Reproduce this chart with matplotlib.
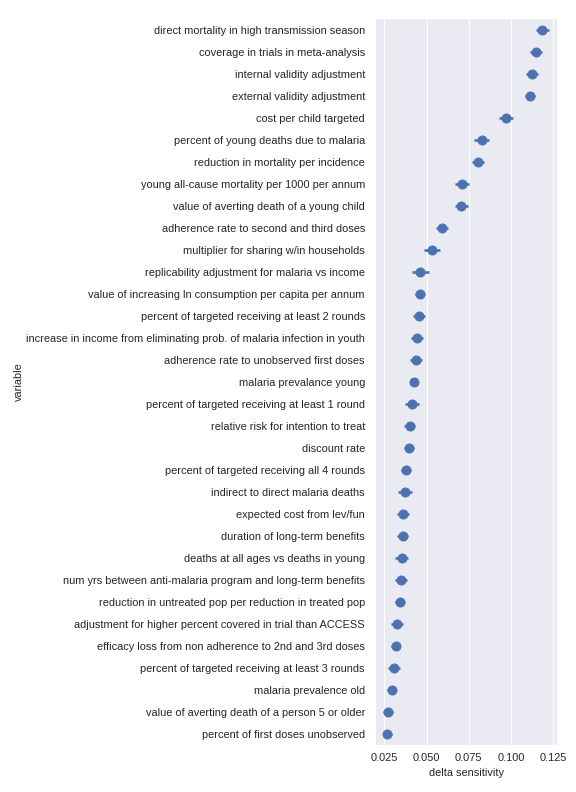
import matplotlib
matplotlib.use("Agg")
import matplotlib.pyplot as plt
import numpy as np

variables = [
    "direct mortality in high transmission season",
    "coverage in trials in meta-analysis",
    "internal validity adjustment",
    "external validity adjustment",
    "cost per child targeted",
    "percent of young deaths due to malaria",
    "reduction in mortality per incidence",
    "young all-cause mortality per 1000 per annum",
    "value of averting death of a young child",
    "adherence rate to second and third doses",
    "multiplier for sharing w/in households",
    "replicability adjustment for malaria vs income",
    "value of increasing ln consumption per capita per annum",
    "percent of targeted receiving at least 2 rounds",
    "increase in income from eliminating prob. of malaria infection in youth",
    "adherence rate to unobserved first doses",
    "malaria prevalance young",
    "percent of targeted receiving at least 1 round",
    "relative risk for intention to treat",
    "discount rate",
    "percent of targeted receiving all 4 rounds",
    "indirect to direct malaria deaths",
    "expected cost from lev/fun",
    "duration of long-term benefits",
    "deaths at all ages vs deaths in young",
    "num yrs between anti-malaria program and long-term benefits",
    "reduction in untreated pop per reduction in treated pop",
    "adjustment for higher percent covered in trial than ACCESS",
    "efficacy loss from non adherence to 2nd and 3rd doses",
    "percent of targeted receiving at least 3 rounds",
    "malaria prevalence old",
    "value of averting death of a person 5 or older",
    "percent of first doses unobserved",
]

delta_mean = [
    0.1184, 0.1145, 0.1125, 0.1111, 0.0971, 0.0826, 0.0806, 0.0709, 0.0705,
    0.0591, 0.0532, 0.0463, 0.0461, 0.0455, 0.0443, 0.0437, 0.0426, 0.0414,
    0.0400, 0.0396, 0.0376, 0.0374, 0.0361, 0.0359, 0.0353, 0.0350, 0.0343,
    0.0325, 0.0317, 0.0307, 0.0294, 0.0274, 0.0268,
]

ci_half = [
    0.0040, 0.0036, 0.0036, 0.0030, 0.0040, 0.0045, 0.0036, 0.0043, 0.0037,
    0.0034, 0.0046, 0.0050, 0.0030, 0.0038, 0.0037, 0.0034, 0.0026, 0.0040,
    0.0032, 0.0030, 0.0030, 0.0040, 0.0035, 0.0034, 0.0040, 0.0037, 0.0030,
    0.0036, 0.0025, 0.0035, 0.0027, 0.0030, 0.0025,
]

color = "#4C72B0"
fig = plt.figure(figsize=(8, 11), dpi=72)
plt.rcParams["font.family"] = ["Liberation Sans", "DejaVu Sans"]
ax = fig.add_axes([376 / 576, 1 - 745 / 792, (557 - 376) / 576, (745 - 19) / 792])
ax.set_facecolor("#EAEAF2")

ypos = np.arange(len(variables))
ax.errorbar(delta_mean, ypos, xerr=ci_half, fmt="o", color=color,
            ecolor=color, elinewidth=2.6, markersize=9, capsize=0)

ax.set_ylim(len(variables) - 0.5, -0.5)
ax.set_xlim(0.0201, 0.1271)
ax.set_yticks(ypos)
ax.set_yticklabels(variables)
ax.set_xticks([0.025, 0.050, 0.075, 0.100, 0.125])
ax.set_xticklabels(["0.025", "0.050", "0.075", "0.100", "0.125"])
ax.tick_params(axis="y", length=0, labelsize=11, colors="#262626", pad=11)
ax.tick_params(axis="x", length=0, labelsize=11, colors="#262626", pad=8)
ax.grid(axis="x", color="white", linewidth=1.1)
ax.set_axisbelow(True)
for s in ax.spines.values():
    s.set_visible(False)
ax.set_xlabel("delta sensitivity", fontsize=11, color="#262626", labelpad=5)
ax.set_ylabel("variable", fontsize=11, color="#262626")
ax.yaxis.set_label_coords((24 - 376) / 181, 0.5)
fig.savefig("out.png", dpi=72, facecolor="white")
